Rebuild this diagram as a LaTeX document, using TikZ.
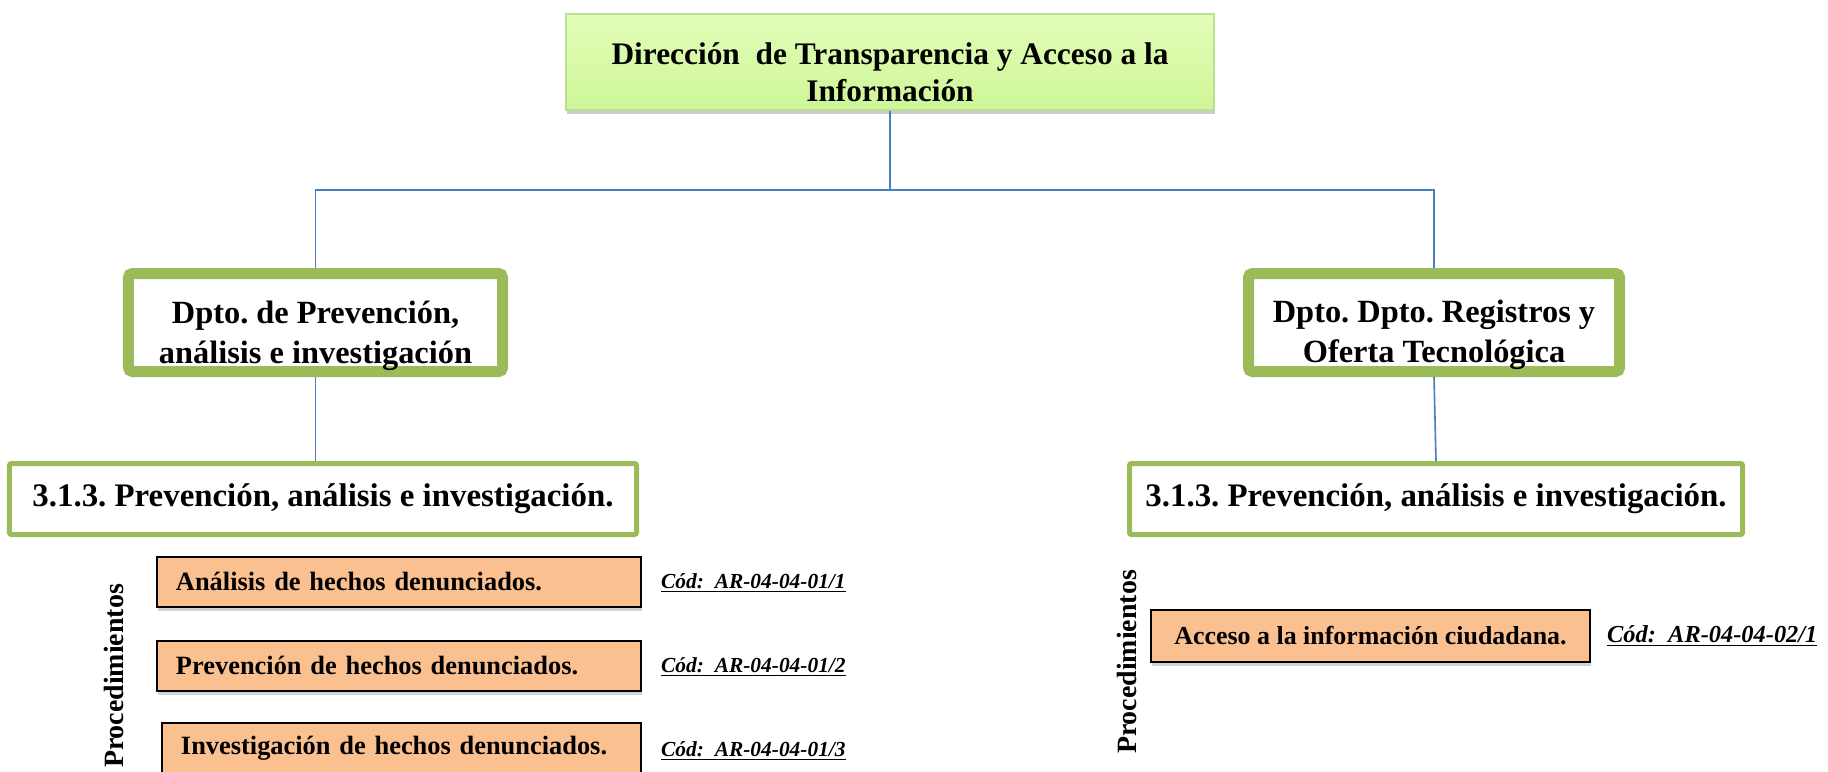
\documentclass[tikz,border=0pt]{standalone}
\usepackage{fontspec}
\setmainfont{Liberation Serif}
\frenchspacing
\newcommand\myul[1]{\setbox0=\hbox{#1}\rlap{\rule[-3.2pt]{\wd0}{1.3pt}}\box0}
\newcommand\topstrut[1]{\rule{0pt}{#1}}
\usetikzlibrary{shadows}
\definecolor{lineblue}{RGB}{74,126,187}
\definecolor{dgreen}{RGB}{155,187,89}
\definecolor{orfill}{RGB}{250,192,143}
\definecolor{topA}{RGB}{226,253,184}
\definecolor{topB}{RGB}{206,246,152}
\definecolor{topedge}{RGB}{190,222,150}
\begin{document}
\begin{tikzpicture}[x=1bp,y=-1bp,
  conn/.style={draw=lineblue, line width=1.6bp},
  topbox/.style={rectangle, draw=topedge, line width=1.5bp, top color=topA, bottom color=topB,
    drop shadow={shadow xshift=1bp,shadow yshift=-4bp,opacity=0.4},
    align=center, font=\bfseries\fontsize{31.5}{37}\selectfont, inner sep=0pt},
  deptbox/.style={rectangle, rounded corners=4bp, draw=dgreen, line width=11bp, fill=white,
    align=center, font=\bfseries\fontsize{32.5}{41}\selectfont, inner sep=0pt},
  secbox/.style={rectangle, rounded corners=2bp, draw=dgreen, line width=5bp, fill=white,
    font=\bfseries\fontsize{33}{38}\selectfont, inner sep=0pt},
  obox/.style={rectangle, draw=black, line width=2bp, fill=orfill,
    drop shadow={shadow xshift=1bp,shadow yshift=-4bp,opacity=0.35},
    font=\bfseries\fontsize{26.5}{30}\selectfont, align=left, inner xsep=19bp, inner ysep=0pt},
  cod/.style={font=\bfseries\itshape\fontsize{21.5}{24}\selectfont, inner sep=0pt, anchor=west},
  proc/.style={rotate=90, font=\bfseries\fontsize{28}{32}\selectfont, inner sep=0pt}]
\fill[white] (0,0) rectangle (1828,772);
\useasboundingbox (0,0) rectangle (1828,772);

% top box
\node[topbox, minimum width=648bp, minimum height=96bp] (top) at (890,62)
  {\topstrut{42bp}Dirección\ \ de Transparencia y Acceso a la\\Información};

% departments
\node[deptbox, minimum width=374bp, minimum height=98bp] (deptL) at (315.5,322.5)
  {\topstrut{49bp}Dpto. de Prevención,\\análisis e investigación};
\node[deptbox, minimum width=371bp, minimum height=98bp] (deptR) at (1434,322.5)
  {\topstrut{47bp}Dpto. Dpto. Registros y\\Oferta Tecnológica};

% sections
\node[secbox, minimum width=627bp, minimum height=71bp] (secL) at (323,499)
  {3.1.3. Prevención, análisis e investigación.};
\node[secbox, minimum width=613bp, minimum height=71bp] (secR) at (1436,499)
  {3.1.3. Prevención, análisis e investigación.};

% connectors
\coordinate (j) at (890,190);
\draw[conn] (top.south) -- (j);
\draw[conn] (j) -| (deptL.north);
\draw[conn] (j) -| (deptR.north);
\draw[conn] (deptL.south) -- (deptL.south |- secL.north);
\draw[conn] (deptR.south) -- (secR.north);

% procedures left
\node[proc] (procL) at (114,676) {Procedimientos};
\node[obox, minimum width=484bp, text width=446bp, minimum height=50bp] (p1) at (399,582)
  {Análisis de hechos denunciados.};
\node[obox, minimum width=484bp, text width=446bp, minimum height=50bp] (p2) at (399,666)
  {Prevención de hechos denunciados.};
\node[obox, minimum width=479bp, text width=441bp, minimum height=50bp] (p3) at (401.5,748)
  {Investigación de hechos denunciados.};
\node[cod] (c1) at (661,583) {\myul{Cód:\ \ AR-04-04-01/1}};
\node[cod] (c2) at (661,667) {\myul{Cód:\ \ AR-04-04-01/2}};
\node[cod] (c3) at (661,751) {\myul{Cód:\ \ AR-04-04-01/3}};

% procedures right
\node[proc] (procR) at (1127,662) {Procedimientos};
\node[obox, minimum width=439bp, inner xsep=0pt, minimum height=52bp, font=\bfseries\fontsize{26}{30}\selectfont] (p4) at (1370.5,636)
  {Acceso a la información ciudadana.};
\node[cod, font=\bfseries\itshape\fontsize{24.5}{28}\selectfont] (c4) at (1607,636) {\myul{Cód:\ \ AR-04-04-02/1}};
\end{tikzpicture}
\end{document}
